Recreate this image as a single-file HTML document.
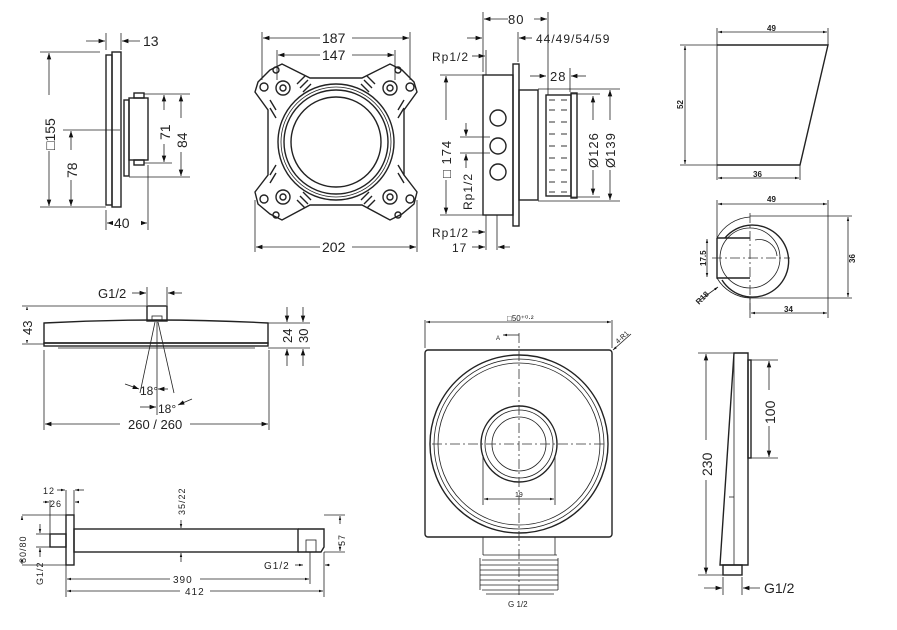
<!DOCTYPE html>
<html><head><meta charset="utf-8"><style>
body{margin:0;background:#fff}
svg{display:block}
text{font-family:"Liberation Sans",sans-serif;fill:#222}
.l{stroke:#222;fill:none;stroke-width:1.4}
.t{stroke:#222;fill:none;stroke-width:.8}
.d{stroke:#333;fill:none;stroke-width:.8;stroke-dasharray:10 3 2 3}
</style></head><body>
<svg width="897" height="630" viewBox="0 0 897 630" xmlns="http://www.w3.org/2000/svg">
<defs>
<marker id="a" viewBox="0 0 10 10" refX="10" refY="5" markerWidth="8" markerHeight="8" orient="auto-start-reverse"><path d="M0,1.5L10,5L0,8.5z" fill="#111"/></marker>
<marker id="s" viewBox="0 0 10 10" refX="10" refY="5" markerWidth="5" markerHeight="5" orient="auto-start-reverse"><path d="M0,2L10,5L0,8z" fill="#111"/></marker>
</defs>

<!-- Panel 1 -->
<g>
<rect class="l" x="106" y="55" width="6" height="150"/>
<rect class="l" x="112" y="52" width="9" height="155"/>
<rect class="l" x="124" y="100" width="5" height="76"/>
<rect class="l" x="129" y="98" width="19" height="62"/>
<rect class="l" x="134" y="93" width="10" height="5"/>
<rect class="l" x="134" y="160" width="10" height="5"/>
<g class="t">
<line x1="40" y1="52" x2="100" y2="52"/><line x1="40" y1="207" x2="106" y2="207"/>
<line x1="63" y1="130" x2="120" y2="130"/>
<line x1="144" y1="94" x2="190" y2="94"/><line x1="144" y1="163" x2="172" y2="163"/><line x1="129" y1="177" x2="190" y2="177"/>
<line x1="106" y1="33" x2="106" y2="50"/><line x1="121" y1="33" x2="121" y2="50"/>
<line x1="106" y1="210" x2="106" y2="230"/><line x1="148" y1="165" x2="148" y2="230"/>
</g>
<line class="t" x1="49" y1="53" x2="49" y2="206" marker-start="url(#a)" marker-end="url(#a)"/>
<line class="t" x1="71" y1="131" x2="71" y2="206" marker-start="url(#a)" marker-end="url(#a)"/>
<line class="t" x1="164" y1="95" x2="164" y2="162" marker-start="url(#a)" marker-end="url(#a)"/>
<line class="t" x1="181" y1="95" x2="181" y2="176" marker-start="url(#a)" marker-end="url(#a)"/>
<line class="t" x1="86" y1="41" x2="105" y2="41" marker-end="url(#a)"/>
<line class="t" x1="140" y1="41" x2="122" y2="41" marker-end="url(#a)"/>
<line class="t" x1="107" y1="223" x2="147" y2="223" marker-start="url(#a)" marker-end="url(#a)"/>
<rect x="43" y="95" width="12" height="56" fill="#fff"/><rect x="63" y="150" width="14" height="30" fill="#fff"/>
<rect x="157" y="110" width="14" height="34" fill="#fff"/><rect x="174" y="118" width="14" height="34" fill="#fff"/>
<rect x="113" y="215" width="28" height="15" fill="#fff"/>
<text x="143" y="46" font-size="14">13</text>
<text x="114" y="228" font-size="14">40</text>
<text font-size="14" transform="translate(55,150) rotate(-90)">□155</text>
<text font-size="14" transform="translate(77,178) rotate(-90)">78</text>
<text font-size="14" transform="translate(170,140) rotate(-90)">71</text>
<text font-size="14" transform="translate(187,148) rotate(-90)">84</text>
</g>

<!-- Panel 2 -->
<g>
<path class="l" d="M270,70 L282,64 L310,78 L362,78 L390,64 L402,70 L414,82 L417,92 L404,110 L404,175 L417,192 L414,204 L402,214 L390,220 L362,205 L310,205 L282,220 L270,214 L258,204 L255,192 L268,175 L268,110 L255,92 L258,82 Z"/>
<circle class="l" cx="336" cy="142" r="58"/><circle class="t" cx="336" cy="142" r="55"/><circle class="l" cx="336" cy="142" r="52"/><circle class="l" cx="336" cy="142" r="45"/>
<g class="l">
<circle cx="283" cy="88" r="7"/><circle cx="390" cy="88" r="7"/><circle cx="283" cy="197" r="7"/><circle cx="390" cy="197" r="7"/>
<circle cx="283" cy="88" r="3"/><circle cx="390" cy="88" r="3"/><circle cx="283" cy="197" r="3"/><circle cx="390" cy="197" r="3"/>
<circle cx="264" cy="87" r="4"/><circle cx="410" cy="87" r="4"/><circle cx="264" cy="199" r="4"/><circle cx="410" cy="199" r="4"/>
<circle cx="276" cy="70" r="3"/><circle cx="398" cy="70" r="3"/><circle cx="276" cy="215" r="3"/><circle cx="398" cy="215" r="3"/>
</g>
<g class="l" stroke-width="2">
<path d="M297,84 l8,-8 M300,88 l8,-8 M303,92 l8,-8 M375,84 l-8,-8 M372,88 l-8,-8 M369,92 l-8,-8 M297,200 l8,8 M300,196 l8,8 M303,192 l8,8 M375,200 l-8,8 M372,196 l-8,8 M369,192 l-8,8"/>
<path d="M270,100 l6,10 M270,108 l6,10 M404,100 l-6,10 M404,108 l-6,10 M270,175 l6,-10 M270,183 l6,-10 M404,175 l-6,-10 M404,183 l-6,-10"/>
</g>
<g class="t"><line x1="262" y1="32" x2="262" y2="80"/><line x1="410" y1="32" x2="410" y2="80"/><line x1="277" y1="50" x2="277" y2="80"/><line x1="395" y1="50" x2="395" y2="80"/><line x1="255" y1="200" x2="255" y2="252"/><line x1="417" y1="200" x2="417" y2="252"/></g>
<line class="t" x1="263" y1="38" x2="409" y2="38" marker-start="url(#a)" marker-end="url(#a)"/>
<line class="t" x1="278" y1="55" x2="394" y2="55" marker-start="url(#a)" marker-end="url(#a)"/>
<line class="t" x1="256" y1="247" x2="416" y2="247" marker-start="url(#a)" marker-end="url(#a)"/>
<rect x="320" y="30" width="32" height="15" fill="#fff"/><rect x="320" y="47" width="32" height="15" fill="#fff"/><rect x="320" y="240" width="32" height="15" fill="#fff"/>
<text x="322" y="43" font-size="14">187</text><text x="322" y="60" font-size="14">147</text><text x="322" y="252" font-size="14">202</text>
</g>

<!-- Panel 3 -->
<g>
<rect class="l" x="483" y="75" width="30" height="140"/>
<rect class="l" x="513" y="64" width="6" height="162"/>
<rect class="l" x="519" y="90" width="19" height="110"/>
<rect class="l" x="546" y="95" width="25" height="101"/>
<rect class="l" x="571" y="93" width="6" height="105" fill="#555"/>
<circle class="l" cx="498" cy="118" r="8"/><circle class="l" cx="498" cy="146" r="8" stroke-width="3"/><circle class="l" cx="498" cy="172" r="8"/>
<g stroke="#333" stroke-width="1">
<path d="M549,100h6M549,110h6M549,122h6M549,134h6M549,146h6M549,158h6M549,170h6M549,182h6M549,192h6M561,100h6M561,110h6M561,122h6M561,134h6M561,146h6M561,158h6M561,170h6M561,182h6M561,192h6"/>
</g>
<g class="t">
<line x1="483" y1="12" x2="483" y2="72"/><line x1="548" y1="12" x2="548" y2="95"/><line x1="518" y1="32" x2="518" y2="62"/>
<line x1="440" y1="75" x2="483" y2="75"/><line x1="440" y1="215" x2="483" y2="215"/>
<line x1="538" y1="89" x2="620" y2="89"/><line x1="571" y1="94" x2="600" y2="94"/><line x1="571" y1="197" x2="600" y2="197"/><line x1="538" y1="201" x2="620" y2="201"/>
<line x1="570" y1="68" x2="570" y2="92"/>
<line x1="460" y1="137" x2="490" y2="137"/><line x1="460" y1="153" x2="490" y2="153"/>
<line x1="486" y1="50" x2="486" y2="75"/><line x1="486" y1="215" x2="486" y2="250"/><line x1="497" y1="215" x2="497" y2="250"/>
</g>
<line class="t" x1="484" y1="19" x2="547" y2="19" marker-start="url(#a)" marker-end="url(#a)"/>
<line class="t" x1="467" y1="38" x2="482" y2="38" marker-end="url(#a)"/>
<line class="t" x1="532" y1="38" x2="519" y2="38" marker-end="url(#a)"/>
<line class="t" x1="530" y1="76" x2="546" y2="76" marker-end="url(#a)"/>
<line class="t" x1="586" y1="76" x2="571" y2="76" marker-end="url(#a)"/>
<line class="t" x1="446" y1="76" x2="446" y2="214" marker-start="url(#a)" marker-end="url(#a)"/>
<line class="t" x1="593" y1="96" x2="593" y2="195" marker-start="url(#a)" marker-end="url(#a)"/>
<line class="t" x1="610" y1="90" x2="610" y2="200" marker-start="url(#a)" marker-end="url(#a)"/>
<line class="t" x1="466" y1="123" x2="466" y2="136" marker-end="url(#a)"/>
<line class="t" x1="466" y1="168" x2="466" y2="154" marker-end="url(#a)"/>
<line class="t" x1="472" y1="56" x2="485" y2="56" marker-end="url(#a)"/>
<line class="t" x1="472" y1="232" x2="485" y2="232" marker-end="url(#a)"/>
<line class="t" x1="472" y1="247" x2="485" y2="247" marker-end="url(#a)"/>
<line class="t" x1="510" y1="247" x2="498" y2="247" marker-end="url(#a)"/>
<rect x="508" y="12" width="26" height="14" fill="#fff"/><rect x="439" y="120" width="14" height="60" fill="#fff"/>
<rect x="586" y="120" width="14" height="50" fill="#fff"/><rect x="603" y="120" width="14" height="50" fill="#fff"/>
<text x="508" y="24" font-size="13" letter-spacing="1">80</text>
<text x="536" y="43" font-size="12" letter-spacing="1">44/49/54/59</text>
<text x="550" y="81" font-size="13" letter-spacing="1">28</text>
<text x="432" y="61" font-size="12" letter-spacing="1">Rp1/2</text>
<text x="432" y="237" font-size="12" letter-spacing="1">Rp1/2</text>
<text x="452" y="252" font-size="12" letter-spacing="1">17</text>
<text font-size="12" letter-spacing="1" transform="translate(472,210) rotate(-90)">Rp1/2</text>
<text font-size="13" letter-spacing="1" transform="translate(451,178) rotate(-90)">□ 174</text>
<text font-size="13" letter-spacing="1" transform="translate(598,168) rotate(-90)">Ø126</text>
<text font-size="13" letter-spacing="1" transform="translate(615,168) rotate(-90)">Ø139</text>
</g>

<!-- Panel 4 -->
<g>
<path class="l" d="M717,45 L828,45 L800,165 L717,165" stroke-width="1"/>
<g class="t"><line x1="717" y1="28" x2="717" y2="180"/><line x1="828" y1="28" x2="828" y2="45"/><line x1="680" y1="45" x2="717" y2="45"/><line x1="680" y1="165" x2="717" y2="165"/><line x1="800" y1="165" x2="800" y2="180"/></g>
<line class="t" x1="718" y1="32" x2="827" y2="32" marker-start="url(#s)" marker-end="url(#s)"/>
<line class="t" x1="685" y1="46" x2="685" y2="164" marker-start="url(#s)" marker-end="url(#s)"/>
<line class="t" x1="718" y1="178" x2="799" y2="178" marker-start="url(#s)" marker-end="url(#s)"/>
<text x="767" y="31" font-size="8" font-weight="bold">49</text>
<text x="753" y="177" font-size="8" font-weight="bold">36</text>
<text font-size="8" font-weight="bold" transform="translate(683,109) rotate(-90)">52</text>
</g>

<!-- Panel 5 -->
<g>
<path class="l" d="M717,238 L750,238 M717,238 L717,278 L750,278" stroke-width="1"/>
<path class="l" d="M725,238 A36,36 0 1 1 722,280" stroke-width="1"/>
<path class="t" d="M717,238 A40,40 0 0 1 750,217 M717,278 A40,40 0 0 0 750,298"/>
<circle class="t" cx="750" cy="258" r="30"/>
<path class="t" d="M755,240 A18,18 0 0 1 777,256"/>
<line class="d" x1="712" y1="258" x2="790" y2="258"/><line class="d" x1="750" y1="213" x2="750" y2="310"/>
<g class="t"><line x1="717" y1="200" x2="717" y2="238"/><line x1="828" y1="200" x2="828" y2="318"/><line x1="750" y1="298" x2="852" y2="298"/><line x1="750" y1="216" x2="852" y2="216"/><line x1="750" y1="298" x2="750" y2="318"/></g>
<line class="t" x1="718" y1="204" x2="827" y2="204" marker-start="url(#s)" marker-end="url(#s)"/>
<line class="t" x1="848" y1="217" x2="848" y2="297" marker-start="url(#s)" marker-end="url(#s)"/>
<line class="t" x1="751" y1="313" x2="827" y2="313" marker-start="url(#s)" marker-end="url(#s)"/>
<line class="t" x1="707" y1="239" x2="707" y2="277" marker-start="url(#s)" marker-end="url(#s)"/>
<line class="t" x1="700" y1="300" x2="718" y2="287" marker-end="url(#s)"/>
<text x="767" y="202" font-size="8" font-weight="bold">49</text>
<text x="784" y="312" font-size="8" font-weight="bold">34</text>
<text font-size="8" font-weight="bold" transform="translate(855,263) rotate(-90)">36</text>
<text font-size="8" font-weight="bold" transform="translate(706,266) rotate(-90)">17.5</text>
<text font-size="8" font-weight="bold" transform="translate(699,305) rotate(-45)">R18</text>
</g>

<!-- Panel 6 -->
<g>
<path class="l" d="M44,323 Q155,317 268,323 L268,343 L44,343 Z"/>
<rect class="l" x="44" y="343" width="224" height="3" fill="#444"/>
<line class="t" x1="58" y1="348" x2="255" y2="348"/>
<rect class="l" x="147" y="306" width="20" height="15"/>
<rect class="t" x="152" y="316" width="10" height="5"/>
<g class="t">
<line x1="155" y1="322" x2="140" y2="393"/><line x1="158" y1="322" x2="174" y2="393"/><line x1="157" y1="322" x2="157" y2="415"/>
<line x1="22" y1="306" x2="147" y2="306"/><line x1="22" y1="344" x2="44" y2="344"/>
<line x1="268" y1="323" x2="310" y2="323"/><line x1="268" y1="348" x2="310" y2="348"/>
<line x1="44" y1="350" x2="44" y2="430"/><line x1="269" y1="350" x2="269" y2="430"/>
<line x1="147" y1="287" x2="147" y2="305"/><line x1="167" y1="287" x2="167" y2="305"/>
</g>
<line class="t" x1="27" y1="307" x2="27" y2="343" marker-start="url(#a)" marker-end="url(#a)"/>
<line class="t" x1="287" y1="307" x2="287" y2="322" marker-end="url(#a)"/>
<line class="t" x1="287" y1="366" x2="287" y2="349" marker-end="url(#a)"/>
<line class="t" x1="303" y1="307" x2="303" y2="322" marker-end="url(#a)"/>
<line class="t" x1="303" y1="366" x2="303" y2="349" marker-end="url(#a)"/>
<line class="t" x1="45" y1="424" x2="268" y2="424" marker-start="url(#a)" marker-end="url(#a)"/>
<line class="t" x1="132" y1="293" x2="146" y2="293" marker-end="url(#a)"/>
<line class="t" x1="182" y1="293" x2="168" y2="293" marker-end="url(#a)"/>
<line class="t" x1="125" y1="384" x2="139" y2="389" marker-end="url(#a)"/>
<line class="t" x1="168" y1="389" x2="158" y2="389" marker-end="url(#a)"/>
<line class="t" x1="140" y1="407" x2="156" y2="407" marker-end="url(#a)"/>
<line class="t" x1="192" y1="399" x2="178" y2="405" marker-end="url(#a)"/>
<rect x="20" y="310" width="14" height="30" fill="#fff"/><rect x="120" y="416" width="70" height="15" fill="#fff"/>
<text x="98" y="298" font-size="13">G1/2</text>
<text x="128" y="429" font-size="13">260 / 260</text>
<text x="140" y="395" font-size="12">18°</text>
<text x="158" y="413" font-size="12">18°</text>
<text font-size="13" transform="translate(32,335) rotate(-90)">43</text>
<text font-size="13" transform="translate(292,343) rotate(-90)">24</text>
<text font-size="13" transform="translate(308,343) rotate(-90)">30</text>
</g>

<!-- Panel 7 -->
<g>
<rect class="l" x="66" y="515" width="8" height="50"/>
<rect class="l" x="50" y="534" width="16" height="13"/>
<rect class="l" x="74" y="529" width="224" height="23"/>
<path class="l" d="M298,529 L324,529 L324,547 L321,552 L298,552"/>
<rect class="t" x="306" y="540" width="10" height="12"/>
<g class="t">
<line x1="22" y1="515" x2="66" y2="515"/><line x1="22" y1="565" x2="66" y2="565"/><line x1="36" y1="534" x2="50" y2="534"/><line x1="36" y1="547" x2="50" y2="547"/>
<line x1="324" y1="515" x2="345" y2="515"/><line x1="324" y1="552" x2="345" y2="552"/>
<line x1="66" y1="490" x2="66" y2="515"/><line x1="74" y1="490" x2="74" y2="515"/><line x1="50" y1="500" x2="50" y2="534"/>
<line x1="66" y1="565" x2="66" y2="597"/><line x1="310" y1="552" x2="310" y2="584"/><line x1="324" y1="552" x2="324" y2="597"/>
</g>
<line class="t" x1="22" y1="516" x2="22" y2="564" marker-start="url(#s)" marker-end="url(#s)"/>
<line class="t" x1="40" y1="524" x2="40" y2="533" marker-end="url(#s)"/>
<line class="t" x1="40" y1="557" x2="40" y2="548" marker-end="url(#s)"/>
<line class="t" x1="340" y1="516" x2="340" y2="551" marker-start="url(#s)" marker-end="url(#s)"/>
<line class="t" x1="181" y1="520" x2="181" y2="528" marker-end="url(#s)"/>
<line class="t" x1="181" y1="562" x2="181" y2="553" marker-end="url(#s)"/>
<line class="t" x1="67" y1="579" x2="309" y2="579" marker-start="url(#s)" marker-end="url(#s)"/>
<line class="t" x1="67" y1="591" x2="323" y2="591" marker-start="url(#s)" marker-end="url(#s)"/>
<line class="t" x1="57" y1="490" x2="65" y2="490" marker-end="url(#s)"/>
<line class="t" x1="84" y1="490" x2="75" y2="490" marker-end="url(#s)"/>
<line class="t" x1="43" y1="502" x2="49" y2="502" marker-end="url(#s)"/>
<line class="t" x1="78" y1="502" x2="75" y2="502" marker-end="url(#s)"/>
<line class="t" x1="295" y1="565" x2="303" y2="565" marker-end="url(#s)"/>
<line class="t" x1="330" y1="565" x2="325" y2="565" marker-end="url(#s)"/>
<rect x="170" y="573" width="30" height="12" fill="#fff"/><rect x="180" y="585" width="30" height="12" fill="#fff"/><rect x="16" y="520" width="12" height="40" fill="#fff"/><rect x="334" y="524" width="12" height="20" fill="#fff"/>
<text x="43" y="494" font-size="9" letter-spacing="1">12</text>
<text x="50" y="507" font-size="9" letter-spacing="1">26</text>
<text x="173" y="583" font-size="10" letter-spacing="1">390</text>
<text x="185" y="595" font-size="10" letter-spacing="1">412</text>
<text x="264" y="569" font-size="10" letter-spacing="1">G1/2</text>
<text font-size="9" letter-spacing="1" transform="translate(185,515) rotate(-90)">35/22</text>
<text font-size="9" letter-spacing="1" transform="translate(26,563) rotate(-90)">80/80</text>
<text font-size="9" letter-spacing="1" transform="translate(43,585) rotate(-90)">G1/2</text>
<text font-size="9" letter-spacing="1" transform="translate(345,546) rotate(-90)">57</text>
</g>

<!-- Panel 8 -->
<g>
<rect class="l" x="425" y="350" width="187" height="187" rx="3"/>
<circle class="l" cx="519" cy="444" r="89"/><circle class="t" cx="519" cy="444" r="85"/><circle class="t" cx="519" cy="444" r="81"/>
<circle class="l" cx="519" cy="444" r="38"/><circle class="t" cx="519" cy="444" r="34"/><circle class="t" cx="519" cy="444" r="27"/>
<g class="t"><line x1="483" y1="455" x2="483" y2="505"/><line x1="555" y1="455" x2="555" y2="505"/><line x1="483" y1="537" x2="483" y2="555"/><line x1="555" y1="537" x2="555" y2="555"/>
<line x1="425" y1="320" x2="425" y2="348"/><line x1="612" y1="320" x2="612" y2="348"/></g>
<line class="t" x1="484" y1="499" x2="554" y2="499" marker-start="url(#s)" marker-end="url(#s)"/>
<line class="t" x1="426" y1="322" x2="611" y2="322" marker-start="url(#s)" marker-end="url(#s)"/>
<line class="t" x1="631" y1="334" x2="613" y2="350" marker-end="url(#s)"/>
<path class="t" d="M519,335 L503,335" marker-end="url(#s)"/>
<line class="d" x1="519" y1="333" x2="519" y2="598"/><line class="d" x1="432" y1="444" x2="606" y2="444"/>
<g class="t"><path d="M483,555 h74 M482,560 h76 M480,565 h78 M480,570 h78 M480,575 h78 M480,580 h78 M480,585 h78 M482,590 h76 M486,594 h68"/><line x1="480" y1="558" x2="480" y2="590"/><line x1="558" y1="558" x2="558" y2="590"/></g>
<text x="507" y="321" font-size="8" font-family="Liberation Serif">□50⁺⁰·²</text>
<text x="496" y="340" font-size="6">A</text>
<text x="515" y="497" font-size="7" font-family="Liberation Serif">19</text>
<text font-size="7" transform="translate(618,344) rotate(-42)">4-R1</text>
<text x="508" y="607" font-size="8">G 1/2</text>
</g>

<!-- Panel 9 -->
<g>
<path class="l" d="M734,353 L748,353 L748,565 L720,565 Z"/>
<line class="t" x1="734" y1="353" x2="734" y2="565"/>
<line class="t" x1="729" y1="497" x2="734" y2="497"/>
<rect class="l" x="748" y="360" width="3" height="98" fill="#555"/>
<rect class="l" x="723" y="565" width="19" height="10" fill="#888"/>
<g class="t"><line x1="698" y1="353" x2="734" y2="353"/><line x1="698" y1="575" x2="723" y2="575"/><line x1="748" y1="360" x2="778" y2="360"/><line x1="748" y1="458" x2="778" y2="458"/><line x1="723" y1="577" x2="723" y2="595"/><line x1="742" y1="577" x2="742" y2="595"/></g>
<line class="t" x1="706" y1="354" x2="706" y2="574" marker-start="url(#a)" marker-end="url(#a)"/>
<line class="t" x1="769" y1="361" x2="769" y2="457" marker-start="url(#a)" marker-end="url(#a)"/>
<line class="t" x1="704" y1="588" x2="722" y2="588" marker-end="url(#a)"/>
<line class="t" x1="760" y1="588" x2="743" y2="588" marker-end="url(#a)"/>
<rect x="699" y="440" width="14" height="40" fill="#fff"/><rect x="762" y="390" width="14" height="36" fill="#fff"/>
<text font-size="14" transform="translate(712,476) rotate(-90)">230</text>
<text font-size="14" transform="translate(775,424) rotate(-90)">100</text>
<text x="764" y="593" font-size="14">G1/2</text>
</g>
</svg>
</body></html>
